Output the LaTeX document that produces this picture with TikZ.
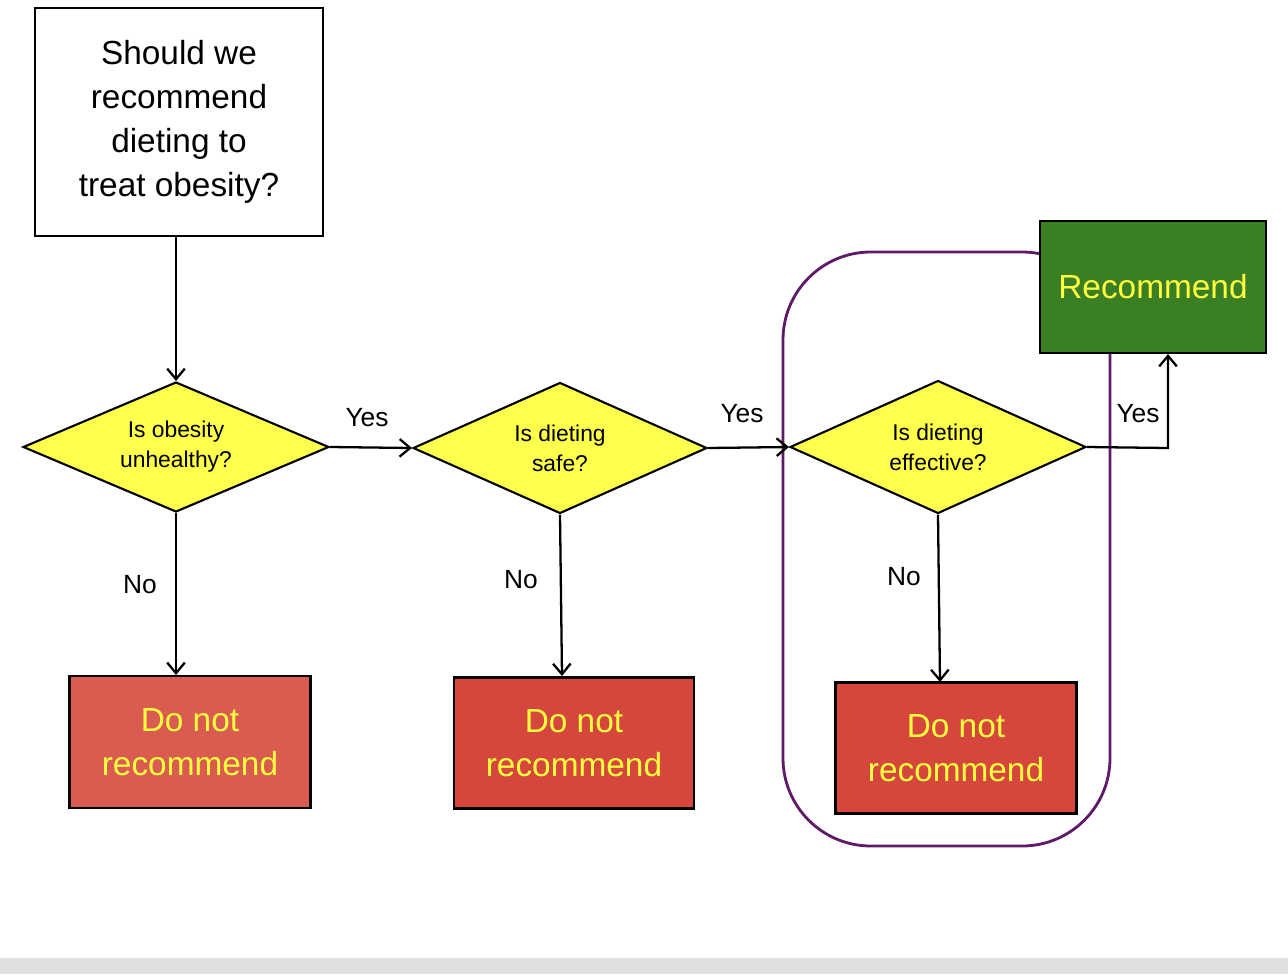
\documentclass[tikz,border=0pt]{standalone}
\usepackage{fontspec}
\setmainfont{Liberation Sans}
\usetikzlibrary{arrows.meta,shapes.geometric}
\definecolor{redA}{HTML}{DA5B4F}
\definecolor{redB}{HTML}{D5473D}
\definecolor{grn}{HTML}{3A7F23}
\definecolor{purp}{HTML}{5E1A66}
\definecolor{yel}{HTML}{FFFF4D}
\definecolor{txty}{HTML}{FFFF40}
\begin{document}
\begin{tikzpicture}[x=0.02cm,y=-0.02cm,
  box/.style={draw=black,line width=1.2pt,align=center,inner sep=0pt},
  big/.style={font=\fontsize{19}{25}\selectfont},
  dia/.style={diamond,draw=black,line width=1.2pt,fill=yel,aspect=2.35,inner sep=0pt,align=center,font=\fontsize{13}{17}\selectfont},
  arr/.style={draw=black,line width=1.3pt,-{Straight Barb[length=6pt,width=10pt]}},
  lbl/.style={font=\fontsize{15}{18}\selectfont}]
\useasboundingbox (0,0) rectangle (1288,974);
\fill[black!12] (0,958) rectangle (1288,974);
\draw[purp,line width=1.6pt,rounded corners=50] (783,252) rectangle (1110,846);
\node[box,big,minimum width=288\pgflinewidth*0+5.76cm,minimum height=4.56cm] (start) at (179,122) {Should we\\recommend\\dieting to\\treat obesity?};
\node[dia,minimum width=6.12cm,minimum height=2.6cm] (d1) at (176,447) {Is obesity\\unhealthy?};
\node[dia,minimum width=5.88cm,minimum height=2.62cm] (d2) at (560,448) {Is dieting\\safe?};
\node[dia,minimum width=5.92cm,minimum height=2.66cm] (d3) at (938,447) {Is dieting\\effective?};
\node[box,big,fill=redA,text=txty,minimum width=4.82cm,minimum height=2.64cm] (r1) at (190,742) {Do not\\recommend};
\node[box,big,fill=redB,text=txty,minimum width=4.8cm,minimum height=2.62cm] (r2) at (574,743) {Do not\\recommend};
\node[box,big,fill=redB,text=txty,minimum width=4.82cm,minimum height=2.62cm] (r3) at (956,748) {Do not\\recommend};
\node[box,big,fill=grn,text=txty,minimum width=4.52cm,minimum height=2.64cm] (g) at (1153,287) {Recommend};
\draw[arr] (start.south -| d1.north) -- (d1.north);
\draw[arr] (d1.east) -- (d2.west);
\draw[arr] (d2.east) -- (d3.west);
\coordinate (c) at (1168,448);
\draw[arr] (d3.east) -- (c) -- (c |- g.south);
\draw[arr] (d1.south) -- (r1.north -| d1.south);
\draw[arr] (d2.south) -- (562,676);
\draw[arr] (d3.south) -- (940,682);
\node[lbl] (y1) at (367,418) {Yes};
\node[lbl] (y2) at (742,414) {Yes};
\node[lbl] (y3) at (1138,414) {Yes};
\node[lbl] (n1) at (140,585) {No};
\node[lbl] (n2) at (521,580) {No};
\node[lbl] (n3) at (904,577) {No};
\end{tikzpicture}
\end{document}
